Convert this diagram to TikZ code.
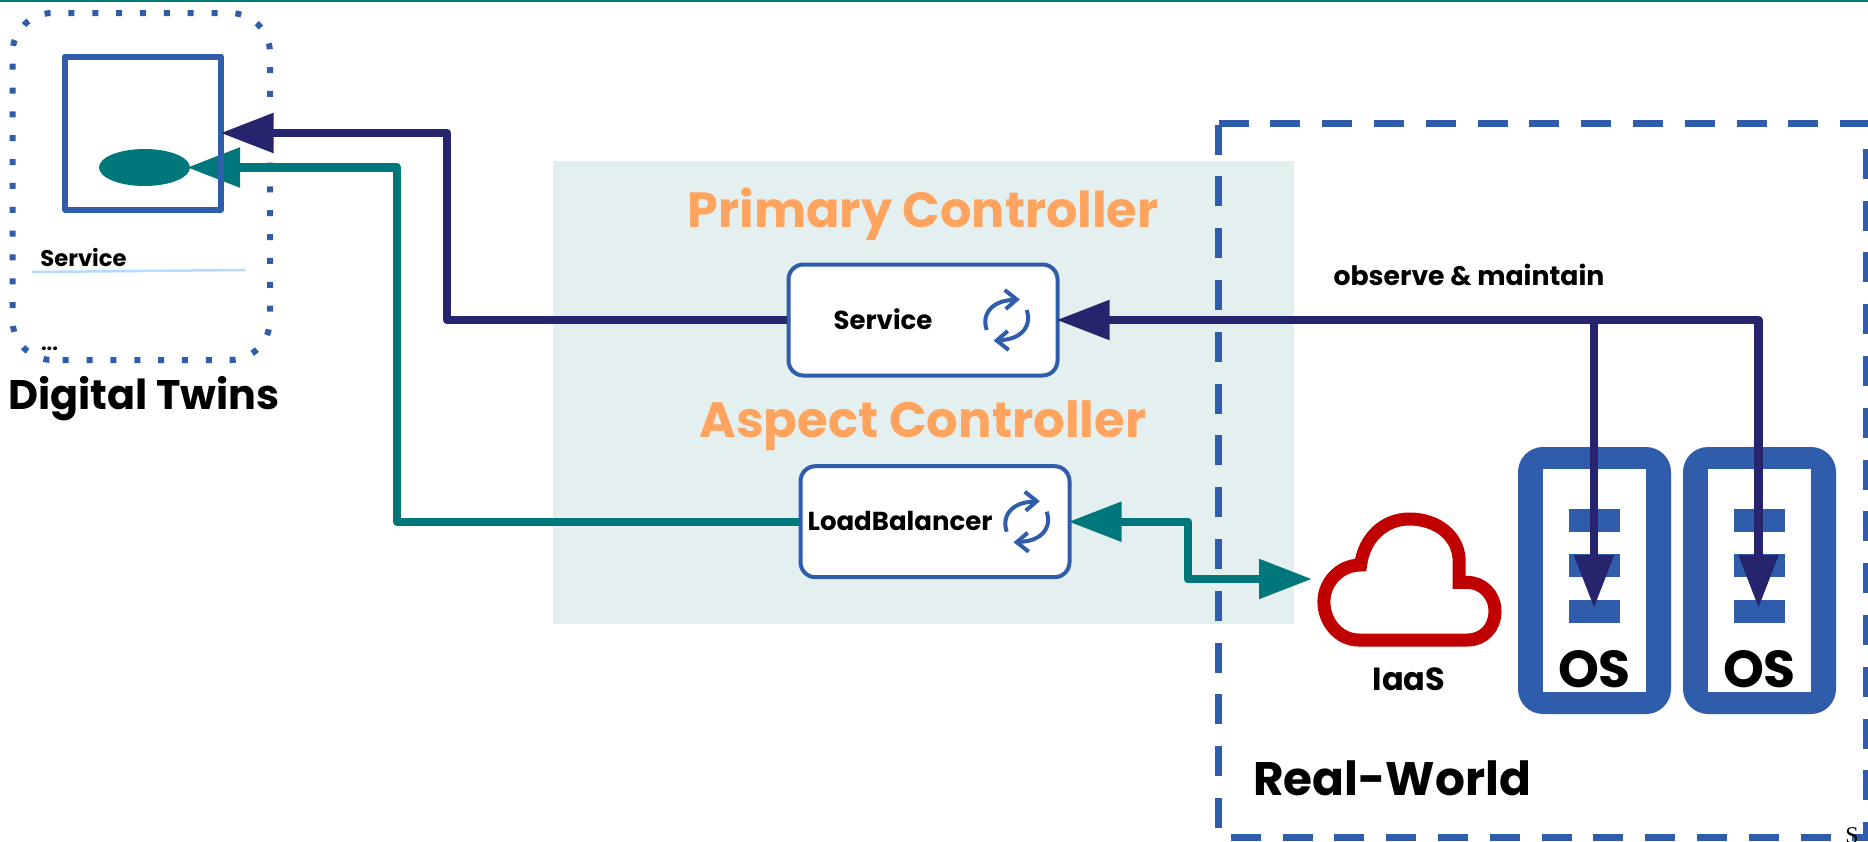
\documentclass[tikz,border=0pt]{standalone}
\usepackage{fontspec}
\setmainfont{Poppins}
\newfontfamily\serifS{Liberation Serif}
\usetikzlibrary{arrows.meta,shapes.geometric}
\definecolor{tealc}{HTML}{00777B}
\definecolor{navyc}{HTML}{27246E}
\definecolor{bluec}{HTML}{2F5DAB}
\definecolor{panelc}{HTML}{E4F0EF}
\definecolor{orangec}{HTML}{FFA45F}
\definecolor{redc}{HTML}{C00000}
\definecolor{lightb}{HTML}{B3DDFF}
\newcommand{\fsz}[1]{\fontsize{#1}{#1}\selectfont\bfseries}
\tikzset{
 x=1pt,y=-1pt,
 lbl/.style={inner sep=0pt,outer sep=0pt,text=black,anchor=center},
 ctrlbox/.style={draw=bluec,fill=white,line width=4pt,rounded corners=15pt,minimum width=269pt,minimum height=111pt,inner sep=0pt},
 heading/.style={lbl,text=orangec},
 conn/.style={line width=8.4pt,line join=round},
 navyline/.style={conn,draw=navyc},
 tealline/.style={conn,draw=tealc},
 bigtip/.tip={Triangle[length=53pt,width=38pt]},
 osbox/.style={fill=bluec,rounded corners=25pt,minimum width=153pt,minimum height=267pt,inner sep=0pt,outer sep=0pt},
 oshole/.style={fill=white,minimum width=103pt,minimum height=223pt,inner sep=0pt,outer sep=0pt},
 osbar/.style={fill=bluec,minimum width=51pt,minimum height=23pt,inner sep=0pt,outer sep=0pt},
 syncicon/.pic={
  \draw[bluec,line width=4pt] (-20,10) .. controls (-26,-8) and (-12,-21) .. (10,-20);
  \draw[bluec,line width=4pt] (-2,-30) -- (10,-20.5) -- (-1,-11);
  \draw[bluec,line width=4pt] (20,-10) .. controls (26,8) and (12,21) .. (-10,20);
  \draw[bluec,line width=4pt] (2,30) -- (-10,20.5) -- (1,11);
 },
}
\begin{document}
\begin{tikzpicture}
\useasboundingbox (0,0) rectangle (1868,841);
\fill[white] (0,0) rectangle (1868,841);
\fill[tealc] (0,0) rectangle (1868,2);
% panel
\node[fill=panelc,minimum width=741pt,minimum height=463pt,inner sep=0pt,outer sep=0pt] (panel) at (923.5,392.5) {};
% real world frame
\draw[bluec,line width=7.5pt,dash pattern=on 30pt off 21.8pt] (1218.6,123.7) -- (1867,123.7) -- (1867,837.5) -- (1218.6,837.5) -- cycle;
% digital twin frame
\draw[bluec,line width=6pt,dash pattern=on 6pt off 17.85pt,rounded corners=40pt] (62.7,360) -- (270,360) -- (270,13) -- (12.5,13) -- (12.5,360) -- (62.7,360);
% twin contents
\node[ellipse,fill=tealc,minimum width=91pt,minimum height=37pt,inner sep=0pt,outer sep=0pt] (twinpod) at (144.5,167.5) {};
\node[lbl] (svctxt) at (83.5,257) {\fsz{22.7}Service};
\draw[lightb,line width=2.5pt] (32,272) -- (245,270);
\node[lbl] (more) at (49.5,349) {\fsz{20}...};
\node[lbl] (twinlbl) at (144,399) {\fsz{41.3}Digital Twins};
% headings
\node[heading] (primary) at (923,214) {\fsz{49.4}Primary Controller};
\node[heading] (aspect) at (923,426) {\fsz{49.7}Aspect Controller};
% boxes
\node[ctrlbox] (svc) at (923,320) {};
\node[ctrlbox] (lb) at (935,521.7) {};
\node[lbl] at (883,319) {\fsz{26}Service};
\node[lbl] at (900,521) {\fsz{26}LoadBalancer};
\pic at (1006.7,320) {syncicon};
\pic at (1026.7,521.7) {syncicon};
% OS boxes
\node[osbox] (osa) at (1594.5,580.5) {};
\node[oshole] (osah) at (1594.5,580.5) {};
\node[osbox] (osb) at (1759.5,580.5) {};
\node[oshole] (osbh) at (1759.5,580.5) {};
\foreach \n/\cx in {a/1594.5,b/1759.5}{
 \node[osbar] (bar\n1) at (\cx,520) {};
 \node[osbar] (bar\n2) at (\cx,565.5) {};
 \node[osbar] (bar\n3) at (\cx,611.5) {};
}
\node[lbl] (ostxta) at (1594.5,669) {\fsz{52}OS};
\node[lbl] (ostxtb) at (1759.5,669) {\fsz{52}OS};
% cloud
\draw[redc,line width=13pt,line join=miter] (1358.7,640) -- (1467.5,640) .. controls (1484,640) and (1495,627) .. (1495,611.7) .. controls (1495,595) and (1483,582.3) .. (1466.7,582.3) -- (1459.2,582.3) -- (1459.2,561.7) .. controls (1459.2,536) and (1437,519) .. (1409.4,519) .. controls (1384,519) and (1364,538) .. (1360.6,565) .. controls (1339,565) and (1323.9,583) .. (1323.9,601.7) .. controls (1323.9,622) and (1339,640) .. (1358.7,640) -- cycle;
\coordinate (cloudtip) at (1309,579);
\node[lbl] (iaas) at (1409,679) {\fsz{32}IaaS};
\node[lbl] (observe) at (1469,275) {\fsz{26.7}observe \& maintain};
\node[lbl] (real) at (1392,778) {\fsz{47}Real-World};
\node[inner sep=0pt,anchor=base] (stub) at (1852,843) {\serifS\fontsize{24}{24}\selectfont S};
% connectors
\coordinate (tealbendA) at (397,521.7);
\coordinate (tealbendB) at (397,167.5);
\draw[tealline,-{bigtip},shorten >=-3pt] (lb.west) -- (tealbendA) -- (tealbendB) -- (twinpod.east);
\node[draw=bluec,line width=6pt,minimum width=156pt,minimum height=153pt,inner sep=0pt,outer sep=3pt,line join=round] (twinbox) at (143,133) {};
\coordinate (navybendA) at (447,320);
\coordinate (navybendB) at (447,133);
\coordinate (twinport) at (223.5,133);
\draw[navyline,-{bigtip},shorten >=-3pt] (svc.west) -- (navybendA) -- (navybendB) -- (twinport);
\coordinate (lbbendA) at (1188,521.7);
\coordinate (lbbendB) at (1188,579);
\draw[tealline,{bigtip}-{bigtip},shorten >=-3pt,shorten <=-3pt] (lb.east) -- (lbbendA) -- (lbbendB) -- (cloudtip);
\coordinate (osatip) at (1594,605);
\coordinate (osbtip) at (1758.5,605);
\coordinate (navyjoin) at (1594,320);
\coordinate (navycorner) at (1758.5,320);
\draw[navyline,{bigtip}-{bigtip},shorten >=-3pt,shorten <=-3pt] (svc.east) -- (navycorner) -- (osbtip);
\draw[navyline,-{bigtip},shorten >=-3pt] (navyjoin) -- (osatip);
\end{tikzpicture}
\end{document}
